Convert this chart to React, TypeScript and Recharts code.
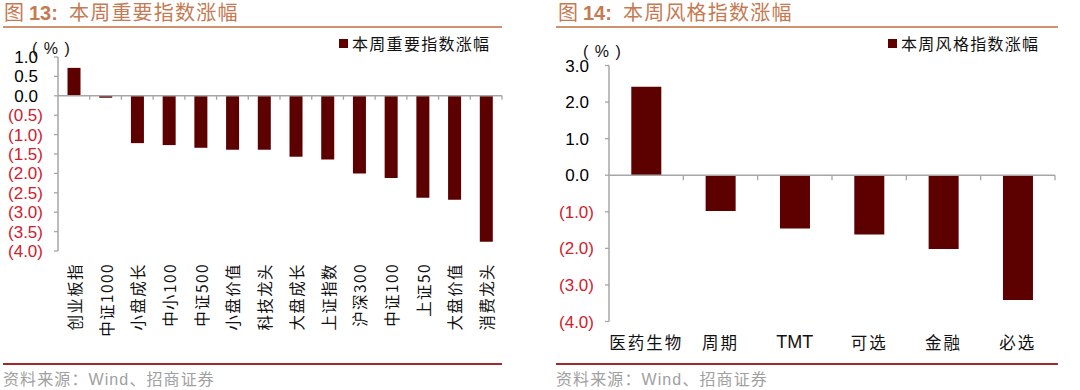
import React from 'react';
import { BarChart, Bar, XAxis, YAxis, ReferenceLine } from 'recharts';

const leftCategories = ['创业板指', '中证1000', '小盘成长', '中小100', '中证500', '小盘价值', '科技龙头', '大盘成长', '上证指数', '沪深300', '中证100', '上证50', '大盘价值', '消费龙头'];
const leftValues = [0.72, -0.05, -1.22, -1.27, -1.34, -1.39, -1.39, -1.57, -1.64, -2.0, -2.12, -2.63, -2.68, -3.76];
const leftTicks = [1.0, 0.5, 0.0, -0.5, -1.0, -1.5, -2.0, -2.5, -3.0, -3.5, -4.0];

const rightCategories = ['医药生物', '周期', 'TMT', '可选', '金融', '必选'];
const rightValues = [2.42, -0.98, -1.46, -1.62, -2.02, -3.41];
const rightTicks = [3.0, 2.0, 1.0, 0.0, -1.0, -2.0, -3.0, -4.0];

const leftSeriesName = '本周重要指数涨幅';
const rightSeriesName = '本周风格指数涨幅';

const leftData = leftCategories.map((c, i) => ({ name: c, value: leftValues[i] }));
const rightData = rightCategories.map((c, i) => ({ name: c, value: rightValues[i] }));

const BAR = '#5c0000';
const RED = '#d0202c';
const AXIS = '#a6a6a6';
const TITLE = '#c47a52';
const SANS = '"Liberation Sans", Arial, sans-serif';
const CJK = '"Noto Sans CJK SC", "Liberation Sans", sans-serif';

const YTick = (props: any) => {
  const { x, y, payload } = props;
  const v = payload.value as number;
  const neg = v < 0;
  return (
    <text x={neg ? x : x - 5} y={y} dy={6} textAnchor="end" fill={neg ? RED : '#000'} fontSize={17} fontFamily={SANS}>
      {neg ? `(${Math.abs(v).toFixed(1)})` : v.toFixed(1)}
    </text>
  );
};

const LeftXTick = (props: any) => {
  const { x, y, payload } = props;
  return (
    <text x={x} y={y} transform={`rotate(-90, ${x}, ${y})`} textAnchor="end" dominantBaseline="central" fill="#111" fontSize={15.5} fontFamily={CJK} letterSpacing={1.4}>
      {payload.value}
    </text>
  );
};

const RightXTick = (props: any) => {
  const { x, y, payload } = props;
  const latin = /^[A-Za-z]+$/.test(payload.value);
  return (
    <text x={x} y={y} dy={6} textAnchor="middle" dominantBaseline="central" fill="#111" fontSize={latin ? 18 : 16.5} fontFamily={latin ? SANS : CJK} letterSpacing={latin ? 0 : 2}>
      {payload.value}
    </text>
  );
};

const zeroAxisShape = (n: number, tickLen: number) => (props: any) => {
  const { x1, x2, y1 } = props;
  const step = (x2 - x1) / n;
  const marks = [];
  for (let i = 1; i <= n; i++) {
    const xx = x1 + step * i;
    marks.push(<line key={i} x1={xx} x2={xx} y1={y1} y2={y1 + tickLen} stroke={AXIS} strokeWidth={1.3} />);
  }
  return (
    <g>
      <line x1={x1} x2={x2} y1={y1} y2={y1} stroke={AXIS} strokeWidth={1.5} />
      {marks}
    </g>
  );
};

const Title = ({ left, num, text }: { left: number; num: string; text: string }) => (
  <svg style={{ position: 'absolute', left, top: 0 }} width={260} height={26}>
    <text x={1} y={20} fontSize={20} fill={TITLE} fontFamily={CJK}>图</text>
    <text x={26} y={20} fontSize={20} fill={TITLE} fontFamily={SANS} fontWeight="bold">{num}:</text>
    <text x={66} y={20} fontSize={20} fill={TITLE} fontFamily={CJK} letterSpacing={1.2}>{text}</text>
  </svg>
);

const Legend = ({ left, text }: { left: number; text: string }) => (
  <div style={{ position: 'absolute', left, top: 33, height: 20, display: 'flex', alignItems: 'center', whiteSpace: 'nowrap' }}>
    <div style={{ width: 9, height: 9, background: BAR, marginRight: 4 }} />
    <span style={{ fontFamily: CJK, fontSize: 16, letterSpacing: 1.3, color: '#111' }}>{text}</span>
  </div>
);

const Pct = ({ left, top }: { left: number; top: number }) => (
  <div style={{ position: 'absolute', left, top, fontFamily: SANS, fontSize: 16, color: '#111', whiteSpace: 'nowrap', lineHeight: '18px', letterSpacing: 1 }}>
    (&nbsp;%&nbsp;)
  </div>
);

const Footer = ({ left, width }: { left: number; width: number }) => (
  <>
    <div style={{ position: 'absolute', left, top: 363, width, height: 2, background: '#a2282e' }} />
    <div style={{ position: 'absolute', left, top: 367, fontFamily: CJK, fontSize: 16, color: '#a0a0a0', whiteSpace: 'nowrap', lineHeight: '22px', letterSpacing: 1.1 }}>
      资料来源：<span style={{ fontFamily: SANS }}>Wind</span>、招商证券
    </div>
  </>
);

export default function App() {
  return (
    <div style={{ position: 'absolute', left: 0, top: 0, width: 1080, height: 390, background: '#fff', overflow: 'hidden' }}>
      <Title left={3} num="13" text="本周重要指数涨幅" />
      <div style={{ position: 'absolute', left: 3, top: 26, width: 499, height: 2, background: '#d0926e' }} />
      <Title left={557} num="14" text="本周风格指数涨幅" />
      <div style={{ position: 'absolute', left: 556, top: 26, width: 502, height: 2, background: '#d0926e' }} />

      <div style={{ position: 'absolute', left: 0, top: 0 }}>
        <BarChart width={540} height={390} data={leftData} margin={{ top: 57, right: 38, bottom: 0, left: 0 }} barCategoryGap="30%">
          <YAxis
            type="number"
            domain={[-4, 1]}
            ticks={leftTicks}
            interval={0}
            width={58}
            axisLine={{ stroke: AXIS, strokeWidth: 1.5 }}
            tickLine={{ stroke: AXIS, strokeWidth: 1.3 }}
            tickSize={4}
            tickMargin={11}
            tick={<YTick />}
          />
          <XAxis dataKey="name" type="category" height={139} axisLine={false} tickLine={false} tickMargin={0} interval={0} tick={<LeftXTick />} tickSize={12} />
          <Bar dataKey="value" name={leftSeriesName} fill={BAR} isAnimationActive={false} />
          <ReferenceLine y={0} shape={zeroAxisShape(leftCategories.length, 4)} />
        </BarChart>
      </div>

      <div style={{ position: 'absolute', left: 540, top: 0 }}>
        <BarChart width={540} height={390} data={rightData} margin={{ top: 65.5, right: 25, bottom: 0, left: 0 }} barCategoryGap="30%">
          <YAxis
            type="number"
            domain={[-4, 3]}
            ticks={rightTicks}
            interval={0}
            width={69}
            axisLine={{ stroke: AXIS, strokeWidth: 1.5 }}
            tickLine={{ stroke: AXIS, strokeWidth: 1.3 }}
            tickSize={4}
            tickMargin={11}
            tick={<YTick />}
          />
          <XAxis dataKey="name" type="category" height={68.5} axisLine={false} tickLine={false} interval={0} tick={<RightXTick />} tickSize={14} tickMargin={0} />
          <Bar dataKey="value" name={rightSeriesName} fill={BAR} isAnimationActive={false} />
          <ReferenceLine y={0} shape={zeroAxisShape(rightCategories.length, 5)} />
        </BarChart>
      </div>

      <Pct left={32} top={40} />
      <Pct left={583} top={43} />
      <Legend left={339} text={leftSeriesName} />
      <Legend left={888} text={rightSeriesName} />
      <Footer left={3} width={499} />
      <Footer left={556} width={502} />
    </div>
  );
}
